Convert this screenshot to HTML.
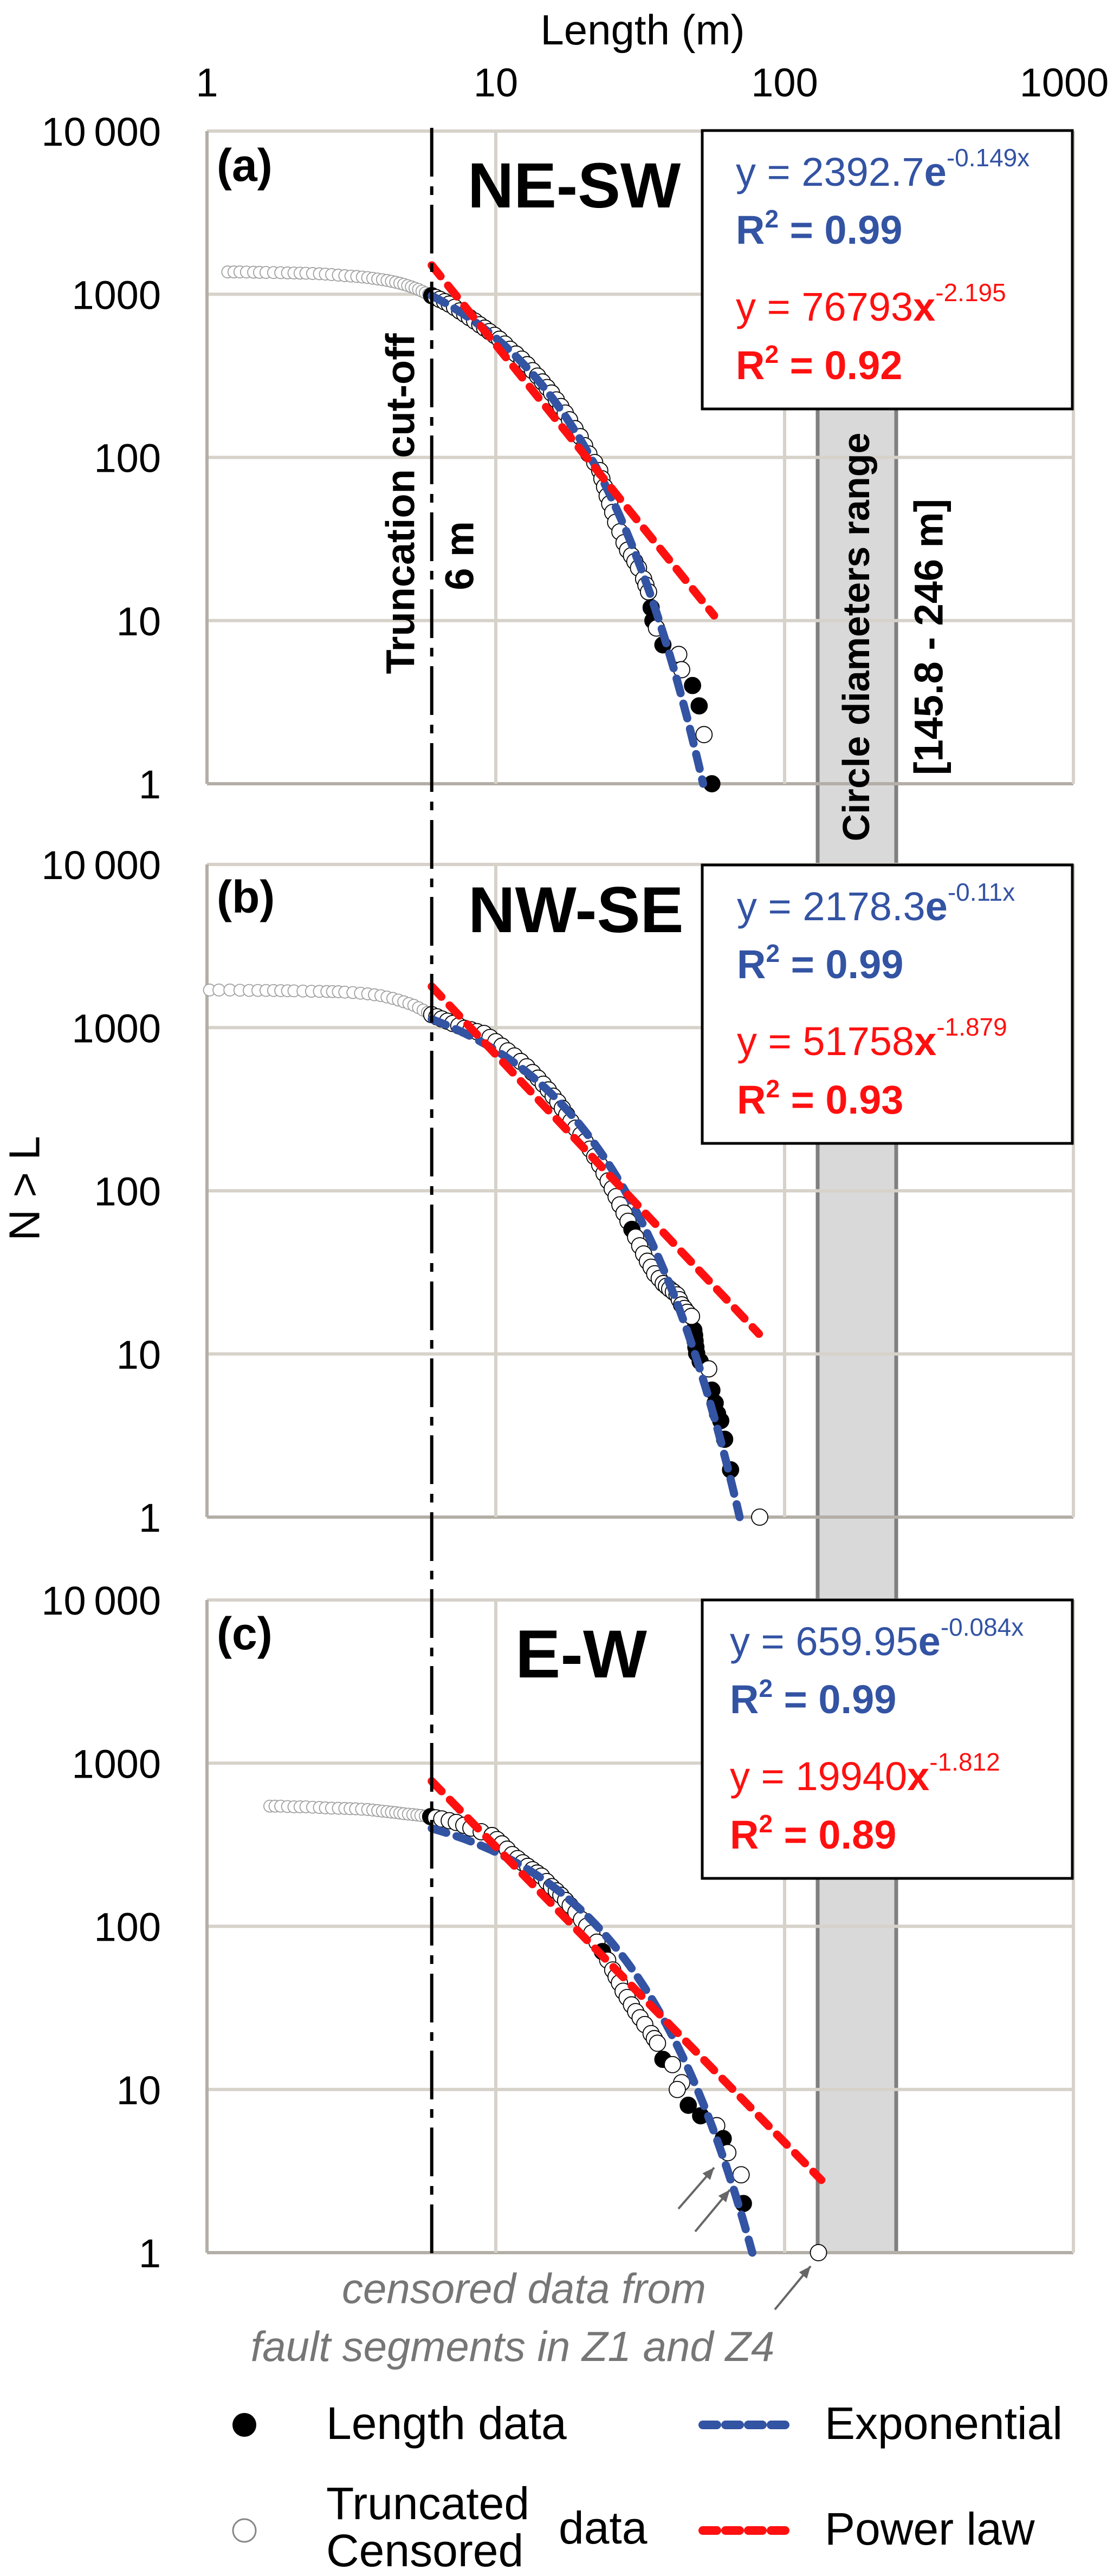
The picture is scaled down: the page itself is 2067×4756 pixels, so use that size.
<!DOCTYPE html>
<html><head><meta charset="utf-8">
<style>
html,body{margin:0;padding:0;background:#fff;}
svg{display:block;font-family:"Liberation Sans",sans-serif;}
</style></head>
<body>
<svg id="chart" xmlns="http://www.w3.org/2000/svg" width="2067" height="4756" viewBox="0 0 2067 4756">
<rect x="0" y="0" width="2067" height="4756" fill="#fff"/>
<g id="bg"></g>
<g id="grid"></g>
<g id="marks"></g>
<g id="over"></g>
</svg>
<script>
// ---- data ----
const xTicks = [1, 10, 100, 1000];
const xTickLabels = ["1", "10", "100", "1000"];
const yTicks = [1, 10, 100, 1000, 10000];
const yTickLabels = ["1", "10", "100", "1000", "10\u2009000"];
const panelLetters = ["(a)", "(b)", "(c)"];
const panelTitles = ["NE-SW", "NW-SE", "E-W"];
const cutoffL = 6;
const circleRange = [145.8, 246];
const expA = [2392.7, 2178.3, 659.95];
const expB = [-0.149, -0.11, -0.084];
const expLabels = ["-0.149x", "-0.11x", "-0.084x"];
const expCoefLabels = ["2392.7", "2178.3", "659.95"];
const expR2 = ["0.99", "0.99", "0.99"];
const powC = [76793, 51758, 19940];
const powD = [-2.195, -1.879, -1.812];
const powLabels = ["-2.195", "-1.879", "-1.812"];
const powCoefLabels = ["76793", "51758", "19940"];
const powR2 = ["0.92", "0.93", "0.89"];
const powEnd = [57, 81.5, 134];
// points: [L, N, type]  g = truncated (gray), o = censored (open), b = length data (black)
const pointsA = [
[1.18,1370,'g'],[1.24,1370,'g'],[1.3,1370,'g'],[1.37,1368,'g'],[1.45,1365,'g'],[1.52,1362,'g'],[1.6,1360,'g'],[1.7,1358,'g'],[1.8,1355,'g'],[1.9,1352,'g'],[2.0,1350,'g'],[2.1,1347,'g'],[2.2,1345,'g'],[2.32,1340,'g'],[2.45,1335,'g'],[2.57,1328,'g'],[2.7,1320,'g'],[2.85,1310,'g'],[3.0,1300,'g'],[3.15,1292,'g'],[3.3,1285,'g'],[3.45,1275,'g'],[3.6,1265,'g'],[3.75,1252,'g'],[3.9,1240,'g'],[4.05,1228,'g'],[4.2,1215,'g'],[4.35,1200,'g'],[4.5,1185,'g'],[4.65,1168,'g'],[4.8,1150,'g'],[4.95,1130,'g'],[5.1,1110,'g'],[5.25,1090,'g'],[5.4,1070,'g'],[5.55,1045,'g'],[5.7,1020,'g'],[5.85,1000,'g'],
[6.0,980,'b'],[6.2,955,'o'],[6.4,930,'o'],[6.65,900,'o'],[6.9,870,'o'],[7.2,830,'o'],[7.5,790,'o'],[7.8,755,'o'],[8.1,720,'o'],[8.45,685,'o'],[8.8,650,'o'],[9.15,620,'o'],[9.5,590,'o'],[9.9,560,'o'],[10.3,530,'o'],[10.75,495,'o'],[11.2,460,'o'],[11.75,430,'o'],[12.3,400,'o'],[12.85,370,'o'],[13.4,340,'o'],[13.95,315,'o'],[14.5,290,'o'],[15.05,268,'o'],[15.6,248,'o'],[16.2,225,'o'],[16.8,205,'o'],[17.4,187,'o'],[18.0,170,'o'],[18.8,150,'o'],[19.6,134,'o'],[20.3,118,'o'],[21,105,'o'],[22,93,'o'],[22.9,83,'o'],[23.3,74,'o'],[23.8,66,'o'],[24.3,58,'o'],[24.8,52,'o'],[25.4,46,'o'],[26,40,'o'],[26.9,35,'o'],[27.8,30,'o'],[28.6,27,'o'],[29.5,25,'o'],[30.3,23,'o'],[31.2,21,'o'],[32.5,18,'o'],[33.1,16.5,'o'],[33.8,15,'o'],[34.5,12,'b'],[35,10,'b'],[36,9,'o'],[37.9,7.1,'b'],[43,6.2,'o'],[44,5,'o'],[48,4,'b'],[50.6,3,'b'],[52.6,2,'o'],[56,1,'b']
];
const pointsB = [
[1.02,1700,'g'],[1.1,1700,'g'],[1.2,1700,'g'],[1.3,1695,'g'],[1.4,1690,'g'],[1.5,1690,'g'],[1.6,1690,'g'],[1.7,1688,'g'],[1.8,1685,'g'],[1.9,1682,'g'],[2.0,1680,'g'],[2.15,1675,'g'],[2.3,1670,'g'],[2.45,1668,'g'],[2.6,1665,'g'],[2.72,1662,'g'],[2.85,1660,'g'],[3.0,1650,'g'],[3.2,1640,'g'],[3.4,1625,'g'],[3.6,1610,'g'],[3.8,1590,'g'],[4.0,1570,'g'],[4.2,1540,'g'],[4.4,1510,'g'],[4.6,1475,'g'],[4.8,1440,'g'],[5.0,1405,'g'],[5.2,1370,'g'],[5.4,1325,'g'],[5.6,1280,'g'],[5.8,1240,'g'],
[6.0,1200,'o'],[6.25,1165,'o'],[6.5,1130,'o'],[6.8,1095,'o'],[7.1,1060,'o'],[7.45,1025,'o'],[7.8,990,'o'],[8.2,970,'o'],[8.6,945,'o'],[9.1,920,'o'],[9.55,870,'o'],[10,820,'o'],[10.5,770,'o'],[11,720,'o'],[11.6,670,'o'],[12.2,620,'o'],[12.8,575,'o'],[13.4,530,'o'],[14,490,'o'],[14.6,450,'o'],[15.2,415,'o'],[15.8,380,'o'],[16.4,350,'o'],[17,320,'o'],[17.6,292,'o'],[18.2,266,'o'],[18.9,242,'o'],[19.7,220,'o'],[20.4,200,'o'],[21.2,180,'o'],[22,162,'o'],[22.9,144,'o'],[23.7,128,'o'],[24.5,115,'o'],[25.3,103,'o'],[26.1,92,'o'],[26.9,82,'o'],[27.8,73,'o'],[28.7,65,'o'],[29.6,58,'b'],[30.5,52,'o'],[31.5,46,'o'],[32.5,41,'o'],[33.5,37,'o'],[34.5,34,'o'],[35.5,31,'o'],[36.8,29,'o'],[38,27,'o'],[39,26,'o'],[40,25,'o'],[41.2,24,'o'],[42.4,23,'o'],[43.2,21.5,'o'],[44,20,'o'],[45,19,'o'],[46,18,'o'],[48.5,14,'b'],[48.8,13,'b'],[49,12,'b'],[49.3,11,'b'],[49.6,10.1,'b'],[51,9,'b'],[47.6,17,'o'],[56,6,'b'],[57.5,5,'b'],[58.6,4.3,'b'],[60.1,3.9,'b'],[62,3,'b'],[65,1.95,'b'],[54.6,8.1,'o'],[82,1,'o']
];
const pointsC = [
[1.65,545,'g'],[1.72,545,'g'],[1.8,545,'g'],[1.9,542,'g'],[2.0,540,'g'],[2.1,540,'g'],[2.2,540,'g'],[2.32,537,'g'],[2.45,535,'g'],[2.57,532,'g'],[2.7,530,'g'],[2.85,529,'g'],[3.0,528,'g'],[3.13,526,'g'],[3.27,525,'g'],[3.43,522,'g'],[3.6,520,'g'],[3.75,516,'g'],[3.9,512,'g'],[4.05,508,'g'],[4.2,505,'g'],[4.35,501,'g'],[4.5,498,'g'],[4.65,494,'g'],[4.8,490,'g'],[4.98,487,'g'],[5.16,484,'g'],[5.33,481,'g'],[5.5,478,'g'],[5.7,474,'g'],
[5.95,470,'b'],[6.2,462,'o'],[6.5,455,'o'],[6.9,444,'o'],[7.3,433,'o'],[7.75,416,'o'],[8.2,400,'o'],[8.9,380,'o'],[9.7,360,'o'],[10.1,340,'o'],[10.5,320,'o'],[10.95,297,'o'],[11.4,275,'o'],[11.9,260,'o'],[12.4,245,'o'],[12.9,233,'o'],[13.4,222,'o'],[13.9,212,'o'],[14.4,203,'o'],[15,188,'o'],[15.6,175,'o'],[16.2,165,'o'],[16.8,155,'o'],[17.45,144,'o'],[18.1,134,'o'],[18.95,122,'o'],[19.8,110,'o'],[20.65,100,'o'],[21.5,91,'o'],[22.4,80,'o'],[23.4,70,'b'],[24.4,62,'o'],[25.4,54,'o'],[26.1,49,'o'],[26.8,45,'o'],[27.6,40,'o'],[28.5,36.6,'o'],[29.5,33,'o'],[30.5,30,'o'],[31.6,27.5,'o'],[32.8,25,'o'],[34.5,22,'o'],[35.4,20.5,'o'],[36.3,19.2,'o'],[37.9,15.3,'b'],[40.9,14.2,'o'],[44,11,'o'],[42.5,10,'o'],[46.4,8,'b'],[51.2,6.9,'b'],[58.2,6,'o'],[61.3,5,'b'],[63.6,4.1,'o'],[70.7,3,'o'],[72,2,'b'],[131,1,'o']
];
const allPoints = [pointsA, pointsB, pointsC];

// ---- layout ----
const NS = "http://www.w3.org/2000/svg";
const plotLeft = 382, decadeX = 533;
const panelTops = [242, 1596, 2954];
const panelH = 1205;
const plotRight = plotLeft + 3 * decadeX;
const BLUE = "#3353a3", RED = "#ff1010";
function xs(L){ return plotLeft + Math.log10(L) * decadeX; }
function ys(p, N){ return panelTops[p] + panelH - Math.log10(N) * panelH / 4; }
function mk(tag, attrs, parent, text){
  const e = document.createElementNS(NS, tag);
  for (const k in attrs) e.setAttribute(k, attrs[k]);
  if (text !== undefined) e.textContent = text;
  document.getElementById(parent).appendChild(e);
  return e;
}
const FB = "bold";

// top axis
let t = mk('text', {x:1186, y:82, 'font-size':78, 'text-anchor':'middle'}, 'over', 'Length (m)');


xTicks.forEach((v,i)=>{
  let cx = xs(v); if (i===3) cx = 1964;
  const e = mk('text', {x:cx, y:178, 'font-size':74, 'text-anchor':'middle'}, 'over', xTickLabels[i]);
  
  
});
t = mk('text', {x:0, y:0, 'font-size':80, 'text-anchor':'middle', 'dominant-baseline':'central', transform:'translate(45,2194) rotate(-90)'}, 'over', 'N > L');



// circle diameter band
const bx0 = 1509, bx1 = 1654;
let band = mk('rect', {x:bx0, y:panelTops[0], width:bx1-bx0, height:panelTops[2]+panelH-panelTops[0], fill:'#d9d9d9'}, 'bg');


[bx0, bx1].forEach(x=>{
  const e = mk('line', {x1:x, x2:x, y1:panelTops[0], y2:panelTops[2]+panelH, stroke:'#808080', 'stroke-width':7}, 'bg');
  
  
});

for (let p=0; p<3; p++){
  const top = panelTops[p], bot = top + panelH;
  yTicks.forEach((v,i)=>{
    const y = ys(p, v);
    const g = mk('line', {x1:plotLeft, x2:plotRight, y1:y, y2:y, stroke: i===0 ? '#b3afa7' : '#d6d2ca', 'stroke-width':6}, 'grid');
    
    
    const l = mk('text', {x:297, y:y+27, 'font-size':74, 'text-anchor':'end'}, 'over', yTickLabels[i]);
    
    
  });
  xTicks.forEach((v,i)=>{
    const x = xs(v);
    const g = mk('line', {x1:x, x2:x, y1:top, y2:bot, stroke: i===0 ? '#b3afa7' : '#d6d2ca', 'stroke-width':6}, 'grid');
    
    
  });
  allPoints[p].forEach(pt=>{
    const [L, N, ty] = pt;
    const c = mk('circle', {cx:xs(L), cy:ys(p,N), r: ty==='g' ? 11 : 15,
      fill: ty==='b' ? '#000' : '#fff', stroke: ty==='g' ? '#a0a0a0' : '#000', 'stroke-width': 1.8}, 'marks');
    
    
  });
  const expEnd = -Math.log(expA[p]) / expB[p];
  let d = '';
  for (let i=0; i<=80; i++){
    const L = cutoffL + (expEnd - cutoffL) * i / 80;
    const N = expA[p] * Math.exp(expB[p] * L);
    d += (i ? 'L' : 'M') + xs(L).toFixed(1) + ' ' + ys(p, N).toFixed(1);
  }
  let e = mk('path', {d:d, fill:'none', stroke:BLUE, 'stroke-width':15, 'stroke-dasharray':'28 20', 'stroke-linecap':'round'}, 'marks');
  
  
  const L0 = cutoffL, L1 = powEnd[p];
  e = mk('line', {x1:xs(L0), y1:ys(p, powC[p]*Math.pow(L0,powD[p])), x2:xs(L1), y2:ys(p, powC[p]*Math.pow(L1,powD[p])),
    stroke:RED, 'stroke-width':15, 'stroke-dasharray':'26 22', 'stroke-linecap':'round'}, 'marks');
  
  

  const lb = [334, 1685, 3045][p];
  e = mk('text', {x:400, y:lb, 'font-size':84, 'font-weight':FB}, 'over', panelLetters[p]);
  
  
  const tx = [863, 864, 951][p], tb = [383, 1721, 3097][p];
  e = mk('text', {x:tx, y:tb, 'font-size':[118,120,125][p], 'font-weight':FB}, 'over', panelTitles[p]);
  
  

  const bt = [241, 1597, 2954][p];
  e = mk('rect', {x:1296, y:bt, width:683, height:514, fill:'#fff', stroke:'#000', 'stroke-width':5}, 'over');
  
  
  const ex = [1358, 1360, 1347][p];
  e = mk('text', {x:ex, y:bt+102, 'font-size':74, fill:BLUE}, 'over');
  
  
  e.innerHTML = 'y = ' + expCoefLabels[p] + '<tspan font-weight="bold">e</tspan><tspan font-size="46" dy="-36">' + expLabels[p] + '</tspan>';
  e = mk('text', {x:ex, y:bt+209, 'font-size':74, fill:BLUE, 'font-weight':FB}, 'over');
  
  
  e.innerHTML = 'R<tspan font-size="46" dy="-30">2</tspan><tspan dy="30"> = ' + expR2[p] + '</tspan>';
  e = mk('text', {x:ex, y:bt+351, 'font-size':74, fill:RED}, 'over');
  
  
  e.innerHTML = 'y = ' + powCoefLabels[p] + '<tspan font-weight="bold">x</tspan><tspan font-size="46" dy="-36">' + powLabels[p] + '</tspan>';
  e = mk('text', {x:ex, y:bt+459, 'font-size':74, fill:RED, 'font-weight':FB}, 'over');
  
  
  e.innerHTML = 'R<tspan font-size="46" dy="-30">2</tspan><tspan dy="30"> = ' + powR2[p] + '</tspan>';
}

let cl = mk('line', {x1:xs(cutoffL), x2:xs(cutoffL), y1:236, y2:panelTops[2]+panelH+8, stroke:'#000', 'stroke-width':6, 'stroke-dasharray':'90 18 16 18'}, 'marks');


t = mk('text', {x:0, y:0, 'font-size':74, 'font-weight':FB, 'text-anchor':'middle', 'dominant-baseline':'central', transform:'translate(739,930) rotate(-90)'}, 'over', 'Truncation cut-off');


t = mk('text', {x:0, y:0, 'font-size':74, 'font-weight':FB, 'text-anchor':'middle', 'dominant-baseline':'central', transform:'translate(848,1026) rotate(-90)'}, 'over', '6 m');


t = mk('text', {x:0, y:0, 'font-size':70, 'font-weight':FB, 'text-anchor':'middle', 'dominant-baseline':'central', transform:'translate(1580,1176) rotate(-90)'}, 'over', 'Circle diameters range');


t = mk('text', {x:0, y:0, 'font-size':74, 'font-weight':FB, 'text-anchor':'middle', 'dominant-baseline':'central', transform:'translate(1714,1176) rotate(-90)'}, 'over', '[' + circleRange[0] + ' - ' + circleRange[1] + ' m]');



const arrows = [[1252,4078,1318,4002],[1283,4120,1347,4043],[1430,4264,1496,4184]];
arrows.forEach(a=>{
  const [x1,y1,x2,y2] = a;
  const ang = Math.atan2(y2-y1, x2-x1), h = 24;
  const g = mk('g', {}, 'over');
  
  
  const ln = document.createElementNS(NS, 'line');
  ln.setAttribute('x1', x1); ln.setAttribute('y1', y1); ln.setAttribute('x2', x2); ln.setAttribute('y2', y2);
  ln.setAttribute('stroke', '#666'); ln.setAttribute('stroke-width', 4);
  g.appendChild(ln);
  const pg = document.createElementNS(NS, 'polygon');
  const p1 = [x2 - h*Math.cos(ang-0.4), y2 - h*Math.sin(ang-0.4)];
  const p2 = [x2 - h*Math.cos(ang+0.4), y2 - h*Math.sin(ang+0.4)];
  pg.setAttribute('points', x2+','+y2+' '+p1.join(',')+' '+p2.join(','));
  pg.setAttribute('fill', '#666');
  g.appendChild(pg);
});
t = mk('text', {x:967, y:4252, 'font-size':78, 'font-style':'italic', fill:'#767676', 'text-anchor':'middle'}, 'over', 'censored data from');


t = mk('text', {x:946, y:4359, 'font-size':78, 'font-style':'italic', fill:'#767676', 'text-anchor':'middle'}, 'over', 'fault segments in Z1 and Z4');



let lg = mk('circle', {cx:451, cy:4477, r:22, fill:'#000'}, 'over');


lg = mk('text', {x:602, y:4503, 'font-size':84}, 'over', 'Length data');


lg = mk('circle', {cx:451, cy:4672, r:21, fill:'#fff', stroke:'#888', 'stroke-width':3}, 'over');


lg = mk('text', {x:602, y:4651, 'font-size':84}, 'over', 'Truncated');


lg = mk('text', {x:602, y:4738, 'font-size':84}, 'over', 'Censored');


lg = mk('text', {x:1031, y:4696, 'font-size':84}, 'over', 'data');


lg = mk('line', {x1:1297, x2:1452, y1:4477, y2:4477, stroke:BLUE, 'stroke-width':16, 'stroke-dasharray':'26 16', 'stroke-linecap':'round'}, 'over');


lg = mk('text', {x:1522, y:4503, 'font-size':84}, 'over', 'Exponential');


lg = mk('line', {x1:1297, x2:1452, y1:4672, y2:4672, stroke:RED, 'stroke-width':16, 'stroke-dasharray':'26 16', 'stroke-linecap':'round'}, 'over');


lg = mk('text', {x:1522, y:4698, 'font-size':84}, 'over', 'Power law');


</script>
</body></html>
